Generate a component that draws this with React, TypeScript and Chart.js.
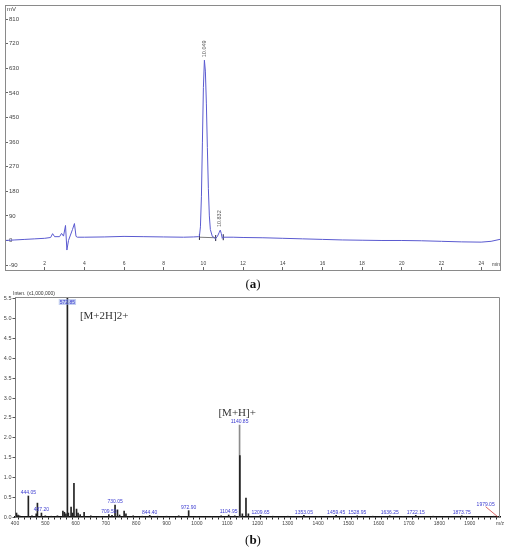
import React, { useEffect, useRef } from "react";
import { Chart, registerables } from "chart.js";
Chart.register(...registerables);

// ---------- (a) HPLC chromatogram ----------
const chromTime = [0, 0.5, 1, 1.5, 2, 2.3, 2.4, 2.5, 2.75, 2.85, 2.95, 3.05, 3.12, 3.2, 3.3, 3.4, 3.5, 3.58, 3.65, 4, 5, 6, 7, 8, 9, 9.5, 9.75, 9.8, 9.85, 9.9, 9.95, 10.0, 10.05, 10.1, 10.15, 10.2, 10.25, 10.3, 10.35, 10.45, 10.55, 10.6, 10.7, 10.8, 10.85, 10.9, 10.95, 11, 11.5, 12, 13, 14, 15, 16, 17, 18, 19, 20, 21, 22, 23, 24, 24.5, 25];
const chromSignal = [0, 2, 4, 6, 8, 11, 25, 14, 14, 26, 16, 55, -35, 0, 20, 40, 62, 15, 12, 12, 13, 15, 14, 13, 12, 13, 14, 16, 50, 160, 360, 560, 660, 620, 500, 340, 190, 90, 40, 15, 11, 6, 14, 30, 38, 26, 8, 12, 12, 11, 10, 8, 6, 4, 2, 1, 0, 0, -1, -3, -5, -6, -3, 5];
const chromYTicks = [-90, 0, 90, 180, 270, 360, 450, 540, 630, 720, 810];
const chromXTicks = [2, 4, 6, 8, 10, 12, 14, 16, 18, 20, 22, 24];
const chromPeakTimes = [10.049, 10.832];
const chromPeakHeights = [660, 38];
const integBaseTime = [9.8, 10.62];
const integBaseSignal = [12, 10];
const integMarkTime = [9.8, 10.62, 11.0];
const integMarkSignal = [13, 9, 12];

// ---------- (b) Mass spectrum ----------
const msMz = [405, 410, 415, 430, 444.05, 456, 470, 474, 487.2, 500, 520, 540, 558, 563, 568, 572.85, 576, 585, 590, 594.5, 603, 608, 615, 628, 650, 680, 709.5, 720, 730.05, 738, 745, 760, 766, 790, 820, 844.4, 870, 900, 940, 972.9, 1000, 1050, 1080, 1104.95, 1125, 1140.85, 1141.85, 1150, 1162, 1170, 1209.65, 1250, 1300, 1353.05, 1400, 1459.45, 1528.95, 1580, 1636.25, 1680, 1722.15, 1780, 1873.75, 1979.05];
const msIntensity = [0.1, 0.05, 0.03, 0.02, 0.53, 0.03, 0.08, 0.35, 0.1, 0.03, 0.02, 0.03, 0.15, 0.12, 0.08, 5.55, 0.1, 0.25, 0.1, 0.85, 0.2, 0.1, 0.06, 0.12, 0.03, 0.02, 0.06, 0.04, 0.3, 0.18, 0.05, 0.15, 0.08, 0.03, 0.02, 0.04, 0.02, 0.02, 0.03, 0.16, 0.02, 0.02, 0.03, 0.05, 0.03, 2.32, 1.55, 0.08, 0.48, 0.08, 0.04, 0.02, 0.02, 0.04, 0.02, 0.04, 0.03, 0.02, 0.03, 0.02, 0.04, 0.02, 0.03, 0.02];
const msLabeledMz = [444.05, 487.2, 572.85, 709.5, 730.05, 844.4, 972.9, 1104.95, 1140.85, 1209.65, 1353.05, 1459.45, 1528.95, 1636.25, 1722.15, 1873.75, 1979.05];
const msGrayMz = [1140.85];
const msYTicks = [0, 0.5, 1, 1.5, 2, 2.5, 3, 3.5, 4, 4.5, 5, 5.5];
const msAnnotText = ["[M+2H]2+", "[M+H]+"];
const msAnnotMz = [694, 1133];
const msAnnotIntensity = [5.08, 2.63];

const SANS = "'Liberation Sans', Arial, sans-serif";
const SERIF = "'Liberation Serif', 'Times New Roman', serif";

function zeroPad(s: any) {
  s.paddingLeft = 0;
  s.paddingRight = 0;
  s.paddingTop = 0;
  s.paddingBottom = 0;
}

export default function App() {
  const refA = useRef<HTMLCanvasElement>(null);
  const refB = useRef<HTMLCanvasElement>(null);

  useEffect(() => {
    const frameA = {
      id: "frameA",
      afterDatasetsDraw(chart: any) {
        const { ctx, chartArea: a, scales } = chart;
        const x = scales.x, y = scales.y;
        ctx.save();
        ctx.strokeStyle = "#8a8a8a";
        ctx.lineWidth = 1;
        ctx.strokeRect(Math.round(a.left) + 0.5, Math.round(a.top) + 0.5, Math.round(a.right - a.left) - 1, Math.round(a.bottom - a.top));
        ctx.fillStyle = "#444";
        ctx.font = `6px ${SANS}`;
        ctx.textBaseline = "middle";
        ctx.textAlign = "left";
        ctx.fillText("mV", a.left + 2, a.top + 4);
        ctx.font = `5px ${SANS}`;
        ctx.fillText("min", a.right - 9, a.bottom - 5.5);
        ctx.font = `5.5px ${SANS}`;
        ctx.fillStyle = "#555";
        chromPeakTimes.forEach((t, i) => {
          const px = x.getPixelForValue(t);
          const py = y.getPixelForValue(chromPeakHeights[i]) - 3;
          ctx.save();
          ctx.translate(px, py);
          ctx.rotate(-Math.PI / 2);
          ctx.textAlign = "left";
          ctx.textBaseline = "middle";
          ctx.fillText(t.toFixed(3), 0, 0);
          ctx.restore();
        });
        ctx.restore();
      },
    };

    const chartA = new Chart(refA.current!, {
      type: "line",
      data: {
        datasets: [
          {
            data: chromTime.map((t, i) => ({ x: t, y: chromSignal[i] })),
            borderColor: "#5a5ad0",
            borderWidth: 1,
            pointRadius: 0,
            tension: 0,
          },
          {
            data: integBaseTime.map((t, i) => ({ x: t, y: integBaseSignal[i] })),
            borderColor: "#7a7a7a",
            borderWidth: 1,
            pointRadius: 0,
          },
          {
            data: integMarkTime.map((t, i) => ({ x: t, y: integMarkSignal[i] })),
            showLine: false,
            pointStyle: "line",
            rotation: 90,
            pointRadius: 3,
            borderColor: "#202040",
            borderWidth: 1,
          },
        ],
      },
      options: {
        animation: false,
        responsive: false,
        layout: { padding: { left: 3, top: 3, right: 3, bottom: 8 } },
        plugins: { legend: { display: false }, tooltip: { enabled: false } },
        scales: {
          x: {
            type: "linear",
            min: 0,
            max: 25,
            afterBuildTicks: (s: any) => {
              s.ticks = chromXTicks.map((v) => ({ value: v }));
            },
            afterFit: (s: any) => {
              s.height = 0;
              zeroPad(s);
            },
            border: { display: false },
            grid: { drawOnChartArea: false, tickLength: -3, color: "#666" },
            ticks: {
              mirror: true,
              padding: 3,
              maxRotation: 0,
              autoSkip: false,
              color: "#444",
              font: { size: 5, family: SANS },
              callback: (v: any) => String(v),
            },
          },
          y: {
            type: "linear",
            min: -108,
            max: 862,
            afterBuildTicks: (s: any) => {
              s.ticks = chromYTicks.map((v) => ({ value: v }));
            },
            afterFit: (s: any) => {
              s.width = 0;
              zeroPad(s);
            },
            border: { display: false },
            grid: { drawOnChartArea: false, tickLength: -3, color: "#666" },
            ticks: {
              mirror: true,
              padding: 4,
              color: "#444",
              font: { size: 6, family: SANS },
              callback: (v: any) => String(v),
            },
          },
        },
      },
      plugins: [frameA],
    } as any);

    const frameB = {
      id: "frameB",
      afterDatasetsDraw(chart: any) {
        const { ctx, chartArea: a, scales } = chart;
        const x = scales.x, y = scales.y;
        ctx.save();
        ctx.strokeStyle = "#8a8a8a";
        ctx.lineWidth = 1;
        ctx.beginPath();
        ctx.moveTo(a.left, Math.round(a.top) + 0.5);
        ctx.lineTo(Math.round(a.right) - 0.5, Math.round(a.top) + 0.5);
        ctx.lineTo(Math.round(a.right) - 0.5, a.bottom);
        ctx.stroke();
        ctx.fillStyle = "#333";
        ctx.font = `5px ${SANS}`;
        ctx.textAlign = "left";
        ctx.textBaseline = "bottom";
        ctx.fillText("Inten. (x1,000,000)", a.left - 2, a.top - 1);
        // peak labels
        ctx.font = `5px ${SANS}`;
        ctx.textAlign = "center";
        ctx.textBaseline = "bottom";
        msLabeledMz.forEach((m) => {
          const i = msMz.indexOf(m);
          let px = x.getPixelForValue(m);
          let py = y.getPixelForValue(msIntensity[i]) - 0.5;
          const txt = m.toFixed(2);
          const w = ctx.measureText(txt).width;
          if (py < a.top + 8) {
            py = a.top + 8;
            ctx.fillStyle = "rgba(150,170,230,0.55)";
            ctx.fillRect(px - w / 2 - 1, py - 6, w + 2, 6);
          }
          if (m > 1950) {
            const lx = px - 8, ly = py - 9;
            ctx.strokeStyle = "#d04040";
            ctx.lineWidth = 0.8;
            ctx.beginPath();
            ctx.moveTo(lx, ly);
            ctx.lineTo(px + 4, py + 1);
            ctx.stroke();
            px = lx;
            py = ly;
          }
          ctx.fillStyle = "#3a3ad0";
          ctx.fillText(txt, px, py);
        });
        // annotations
        ctx.fillStyle = "#333";
        ctx.font = `11px ${SERIF}`;
        ctx.textBaseline = "middle";
        msAnnotText.forEach((t, i) => {
          ctx.fillText(t, x.getPixelForValue(msAnnotMz[i]), y.getPixelForValue(msAnnotIntensity[i]));
        });
        ctx.restore();
      },
    };

    const chartB = new Chart(refB.current!, {
      type: "bar",
      data: {
        datasets: [
          {
            data: msMz.map((m, i) => ({ x: m, y: msIntensity[i] })),
            backgroundColor: msMz.map((m) => (msGrayMz.includes(m) ? "#8c8c8c" : "#222")),
            barThickness: 1,
            borderWidth: 0,
          },
        ],
      },
      options: {
        animation: false,
        responsive: false,
        layout: { padding: { left: 0, top: 12, right: 6, bottom: 0 } },
        plugins: { legend: { display: false }, tooltip: { enabled: false } },
        scales: {
          x: {
            type: "linear",
            min: 400,
            max: 2000,
            offset: false,
            afterFit: (s: any) => {
              s.height = 13;
              zeroPad(s);
            },
            border: { display: true, color: "#111", width: 1.5 },
            grid: { drawOnChartArea: false, tickLength: 2.5, color: "#222" },
            ticks: {
              stepSize: 20,
              padding: 1,
              maxRotation: 0,
              autoSkip: false,
              color: "#444",
              font: { size: 5, family: SANS },
              callback: (v: any) => (v % 100 === 0 ? (v === 2000 ? "m/z" : String(v)) : ""),
            },
          },
          y: {
            type: "linear",
            min: 0,
            max: 5.55,
            afterBuildTicks: (s: any) => {
              s.ticks = msYTicks.map((v) => ({ value: v }));
            },
            afterFit: (s: any) => {
              s.width = 15;
              zeroPad(s);
            },
            border: { display: true, color: "#777", width: 1 },
            grid: { drawOnChartArea: false, tickLength: 2.5, color: "#555" },
            ticks: {
              padding: 1,
              color: "#444",
              font: { size: 5.5, family: SANS },
              callback: (v: any) => Number(v).toFixed(1),
            },
          },
        },
      },
      plugins: [frameB],
    } as any);

    return () => {
      chartA.destroy();
      chartB.destroy();
    };
  }, []);

  const cap: React.CSSProperties = {
    position: "absolute",
    left: 0,
    width: 506,
    textAlign: "center",
    fontFamily: SERIF,
    fontSize: 13,
    lineHeight: "15px",
    color: "#111",
  };

  return (
    <div style={{ position: "absolute", left: 0, top: 0, width: 506, height: 550, background: "#fff" }}>
      <canvas ref={refA} width={506} height={278} style={{ position: "absolute", left: 0, top: 0 }} />
      <div style={{ ...cap, top: 276 }}>
        (<b>a</b>)
      </div>
      <canvas ref={refB} width={506} height={245} style={{ position: "absolute", left: 0, top: 285 }} />
      <div style={{ ...cap, top: 532 }}>
        (<b>b</b>)
      </div>
    </div>
  );
}
